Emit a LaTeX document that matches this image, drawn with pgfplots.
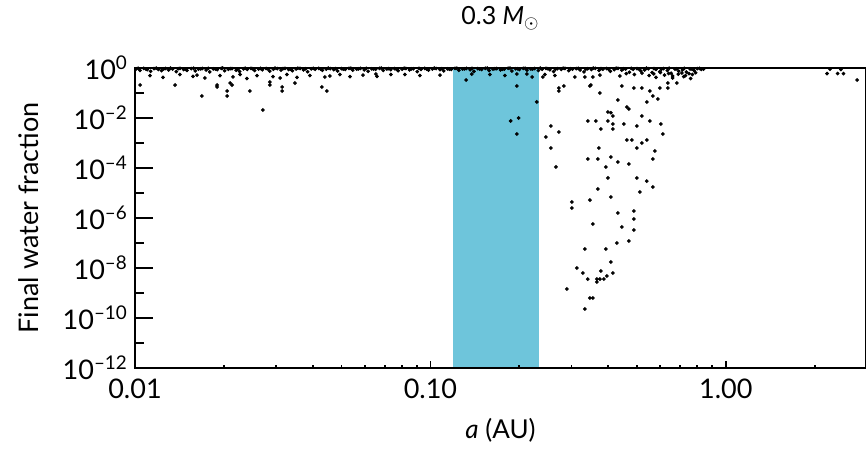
\documentclass[border=0pt]{standalone}
\usepackage{pgfplots}
\pgfplotsset{compat=1.18}
\usepackage{fontspec}
\setmainfont{Lato}
\usetikzlibrary{calc}
\definecolor{hzblue}{RGB}{110,197,219}

\begin{document}
\begin{tikzpicture}
% main panel: habitable zone, simulated planets, x axis
\begin{axis}[name=ax,
  scale only axis, width=365.5pt, height=150pt,
  xmode=log, ymode=log,
  xmin=0.01, xmax=2.98, ymin=1e-12, ymax=1,
  tick align=inside,
  every tick/.style={black, line width=0.9pt},
  tick label style={font=\fontsize{13.5}{15}\selectfont, text=black},
  xticklabel style={yshift=-2pt},
  axis on top,
  axis line style={line width=0.9pt},
  xtick={0.01,0.1,1},
  xticklabels={0.01,0.10,1.00},
  minor xtick={0.02,0.03,0.04,0.05,0.06,0.07,0.08,0.09,0.2,0.3,0.4,0.5,0.6,0.7,0.8,0.9,2},
  xtick pos=bottom,
  major tick length=3.5pt, minor tick length=1.6pt,
  ytick=\empty,
  xlabel={\textit{a} (AU)},
  xlabel style={at={(axis description cs:0.5,-0.207)}, anchor=center, font=\fontsize{13}{15}\selectfont},
  ylabel={Final water fraction},
  ylabel style={at={(axis description cs:-0.145,0.5)}, anchor=center, font=\fontsize{13.5}{15}\selectfont},
  title={0.3 \textit{M}$_{\odot}$},
  title style={at={(axis description cs:0.5,1.105)}, anchor=base, font=\fontsize{12.5}{14}\selectfont},
]
% habitable zone
\addplot[fill=hzblue, draw=none] coordinates {(0.119,1e-12) (0.233,1e-12) (0.233,1) (0.119,1)} --cycle;

% water-rich planets hugging the top
\addplot[only marks, mark=*, mark size=0.72pt, black] coordinates {
(0.0101,0.93) (0.0104,0.81) (0.0107,0.97) (0.011,0.86) (0.0113,0.74) (0.0116,0.95) (0.012,0.88) (0.0123,0.79)
(0.0127,0.96) (0.013,0.84) (0.0134,0.91) (0.0138,0.72) (0.0142,0.97) (0.0146,0.87) (0.015,0.8) (0.0155,0.94)
(0.016,0.77) (0.0164,0.9) (0.0169,0.96) (0.0174,0.83) (0.0179,0.7) (0.0184,0.92) (0.019,0.86) (0.0196,0.97)
(0.0201,0.78) (0.0207,0.89) (0.0213,0.95) (0.022,0.82) (0.0226,0.73) (0.0233,0.93) (0.024,0.88) (0.0247,0.97)
(0.0254,0.8) (0.0262,0.91) (0.027,0.85) (0.0278,0.96) (0.0286,0.75) (0.0294,0.9) (0.0303,0.94) (0.0312,0.83)
(0.0322,0.97) (0.0331,0.87) (0.0341,0.78) (0.0351,0.92) (0.0362,0.96) (0.0372,0.84) (0.0384,0.71) (0.0395,0.93)
(0.0407,0.89) (0.0419,0.97) (0.0431,0.81) (0.0444,0.9) (0.0458,0.95) (0.0471,0.86) (0.0485,0.76) (0.05,0.94)
(0.0515,0.88) (0.053,0.97) (0.0546,0.82) (0.0563,0.91) (0.058,0.96) (0.0597,0.85) (0.0615,0.74) (0.0633,0.93)
(0.0652,0.89) (0.0672,0.97) (0.0692,0.8) (0.0712,0.92) (0.0734,0.86) (0.0756,0.95) (0.0778,0.78) (0.0802,0.9)
(0.0826,0.96) (0.085,0.84) (0.0876,0.93) (0.0902,0.72) (0.0929,0.88) (0.0957,0.97) (0.0985,0.83) (0.1015,0.91)
(0.1045,0.95) (0.1077,0.86) (0.1109,0.77) (0.1142,0.93) (0.1176,0.89) (0.1211,0.97) (0.1248,0.81) (0.1285,0.92)
(0.1324,0.96) (0.1363,0.85) (0.1404,0.74) (0.1446,0.94) (0.149,0.88) (0.1534,0.97) (0.158,0.79) (0.1628,0.91)
(0.1676,0.95) (0.1727,0.84) (0.1778,0.9) (0.1832,0.97) (0.1887,0.76) (0.1943,0.93) (0.2001,0.87) (0.2061,0.96)
(0.2123,0.82) (0.2187,0.92) (0.2252,0.95) (0.232,0.8) (0.2389,0.89) (0.2461,0.97) (0.2535,0.85) (0.2611,0.72)
(0.2689,0.94) (0.277,0.88) (0.2853,0.96) (0.2938,0.78) (0.3026,0.91) (0.3117,0.95) (0.3211,0.83) (0.3307,0.7)
(0.3406,0.93) (0.3508,0.87) (0.3614,0.97) (0.3722,0.8) (0.3834,0.9) (0.3949,0.95) (0.4067,0.74) (0.4189,0.86)
(0.4315,0.96) (0.4444,0.82) (0.4578,0.92) (0.4715,0.68) (0.4856,0.89) (0.5002,0.95) (0.5152,0.77) (0.5307,0.84)
(0.5466,0.93) (0.563,0.66) (0.5799,0.88) (0.5973,0.72) (0.6152,0.94) (0.6337,0.8) (0.6527,0.62) (0.6723,0.9)
(0.6924,0.75) (0.7132,0.85) (0.7346,0.69) (0.7566,0.92) (0.78,0.8) (0.80,0.95) (0.825,0.88)
(0.01025,0.97) (0.0109,0.9) (0.0118,0.98) (0.0125,0.92) (0.0132,0.99) (0.014,0.94) (0.0148,0.89) (0.0158,0.98)
(0.0167,0.93) (0.0177,0.97) (0.0187,0.91) (0.0198,0.99) (0.021,0.94) (0.0223,0.9) (0.0236,0.98) (0.025,0.93)
(0.0266,0.97) (0.0282,0.91) (0.0298,0.99) (0.0317,0.94) (0.0336,0.9) (0.0356,0.98) (0.0378,0.93) (0.0401,0.97)
(0.0425,0.91) (0.0451,0.99) (0.0478,0.94) (0.0507,0.9) (0.0538,0.98) (0.0571,0.93) (0.0606,0.97) (0.0642,0.91)
(0.0682,0.99) (0.0723,0.94) (0.0767,0.9) (0.0814,0.98) (0.0863,0.93) (0.0915,0.97) (0.0971,0.91) (0.103,0.99)
(0.1093,0.94) (0.1159,0.9) (0.1229,0.98) (0.1304,0.93) (0.1383,0.97) (0.1468,0.91) (0.1557,0.99) (0.1652,0.94)
(0.1752,0.9) (0.1859,0.98) (0.1972,0.93) (0.2092,0.97) (0.2219,0.91) (0.2354,0.99) (0.2497,0.94) (0.265,0.9)
(0.2811,0.98) (0.2982,0.93) (0.3163,0.97) (0.3356,0.91) (0.356,0.99) (0.3777,0.94) (0.4007,0.9) (0.425,0.98)
(0.4509,0.93) (0.4783,0.97) (0.5074,0.91) (0.5383,0.99) (0.571,0.94) (0.6058,0.9) (0.6427,0.98) (0.6818,0.93)
(0.7233,0.97) (0.7673,0.91) (0.814,0.96) (0.84,0.9)
(0.46,0.6) (0.49,0.55) (0.52,0.63) (0.55,0.5) (0.57,0.58) (0.6,0.66) (0.62,0.52) (0.64,0.6) (0.66,0.48)
(0.69,0.57) (0.71,0.63) (0.73,0.5) (0.75,0.6) (0.77,0.55) (0.79,0.65) (0.58,0.42) (0.66,0.40) (0.72,0.45) (0.76,0.38)
};

% planets just below the top band
\addplot[only marks, mark=*, mark size=0.72pt, black] coordinates {
(0.01124,0.5) (0.01244,0.42) (0.0142,0.55) (0.01571,0.46) (0.01621,0.52) (0.01725,0.4) (0.0194,0.5)
(0.02146,0.44) (0.02267,0.55) (0.02393,0.38) (0.02588,0.5) (0.02931,0.45) (0.03269,0.55) (0.03534,0.42)
(0.0391,0.5) (0.0457,0.48) (0.0494,0.55) (0.0534,0.45) (0.05909,0.52) (0.06592,0.46) (0.08199,0.55)
(0.09215,0.5) (0.1077,0.52) (0.159,0.55) (0.1787,0.5) (0.2441,0.55) (0.2638,0.5) (0.3746,0.52) (0.4378,0.48)
(0.0104,0.209) (0.01366,0.209) (0.01685,0.0759) (0.01895,0.209) (0.01895,0.174) (0.0205,0.0759)
(0.0205,0.12) (0.021,0.251) (0.0213,0.209) (0.0245,0.12) (0.0271,0.0209) (0.0286,0.209) (0.0286,0.275)
(0.0315,0.174) (0.0315,0.12) (0.031,0.398) (0.0348,0.251) (0.0429,0.174) (0.0446,0.12) (0.0439,0.437)
(0.0654,0.575) (0.0735,0.55)
(0.132,0.33) (0.138,0.575) (0.196,0.575) (0.212,0.575) (0.221,0.437) (0.196,0.191) (0.229,0.0437)
(0.187,7.6e-3) (0.199,0.01) (0.196,2.29e-3)
(0.240,0.437) (0.272,0.158) (0.272,0.12) (0.283,0.191) (0.308,0.437) (0.3333,0.437) (0.3547,0.437)
(0.3465,0.191) (0.3491,0.209) (0.4446,0.191) (0.3746,0.1) (0.431,0.0525) (0.4884,0.158) (0.5195,0.158)
(0.553,0.12) (0.598,0.158) (0.636,0.158) (0.636,0.251) (0.682,0.251) (0.5662,0.0759) (0.5887,0.0575)
(0.540,0.0437) (0.4624,0.0275) (0.4696,0.0229) (0.3989,0.0174) (0.4082,0.0163) (0.4147,0.012) (0.5195,0.012)
(2.2,0.6) (2.39,0.6) (2.5,0.6) (2.78,0.33) (2.25,0.9) (2.45,0.88)
};

% dry planets beyond the habitable zone
\addplot[only marks, mark=*, mark size=0.72pt, black] coordinates {
(0.2558,4.79e-3) (0.341,7.6e-3) (0.3632,7.6e-3) (0.3989,7.6e-3) (0.4147,5.75e-3) (0.4516,5.75e-3)
(0.4995,4.79e-3) (0.553,7.6e-3) (0.6026,5.75e-3) (0.2722,2.75e-3) (0.3776,3.63e-3) (0.4147,3.63e-3)
(0.246,1.74e-3) (0.612,2.29e-3) (0.4624,1.32e-3) (0.4808,1.32e-3) (0.5195,1e-3) (0.540,1.32e-3)
(0.2558,6.3e-4) (0.3717,6.3e-4) (0.4995,6.3e-4) (0.5752,4.8e-4) (0.341,2.3e-4) (0.3688,2.3e-4)
(0.4082,2.75e-4) (0.431,1.74e-4) (0.4696,1.45e-4) (0.5662,2.3e-4) (0.266,1.1e-4) (0.3926,1.1e-4)
(0.3989,4e-5) (0.4995,4e-5) (0.540,3e-5) (0.5662,1.74e-5) (0.3688,1.45e-5) (0.5117,1.1e-5)
(0.3465,5.2e-6) (0.4082,6.9e-6) (0.3012,4.4e-6) (0.3012,2.5e-6) (0.431,1.6e-6) (0.4884,1.9e-6)
(0.4884,9.1e-7) (0.3547,5.75e-7) (0.4446,4.4e-7) (0.4884,3.3e-7) (0.4696,1.2e-7) (0.4278,1e-7)
(0.3333,5.75e-8) (0.3926,5.75e-8) (0.4082,1.74e-8) (0.3131,1e-8) (0.3282,6.3e-9) (0.3776,7.6e-9)
(0.4147,6.3e-9) (0.341,3.6e-9) (0.366,3.6e-9) (0.366,2.75e-9) (0.3746,3.6e-9) (0.3864,3.6e-9)
(0.3957,4.8e-9) (0.2897,1.45e-9) (0.3465,6.3e-10) (0.3547,6.3e-10) (0.3333,2.3e-10)
};
\end{axis}

% y axis with longer inward ticks
\begin{axis}[
  scale only axis, width=365.5pt, height=150pt,
  xmode=log, ymode=log,
  xmin=0.01, xmax=2.98, ymin=1e-12, ymax=1,
  tick align=inside,
  every tick/.style={black, line width=0.9pt},
  tick label style={font=\fontsize{13.5}{15}\selectfont, text=black},
  hide x axis,
  axis y line*=left,
  y axis line style={line width=0.9pt},
  ytick={1e-12,1e-10,1e-8,1e-6,1e-4,1e-2,1},
  yticklabels={10\textsuperscript{–12},10\textsuperscript{–10},10\textsuperscript{–8},10\textsuperscript{–6},10\textsuperscript{–4},10\textsuperscript{–2},10\textsuperscript{0}},
  minor ytick={1e-11,1e-9,1e-7,1e-5,1e-3,1e-1},
  major tick length=9pt, minor tick length=4.5pt,
]
\end{axis}

\pgfresetboundingbox
\path ($(ax.south west)+(-67.5pt,-40pt)$) rectangle ($(ax.north east)+(0pt,34pt)$);
\end{tikzpicture}
\end{document}
